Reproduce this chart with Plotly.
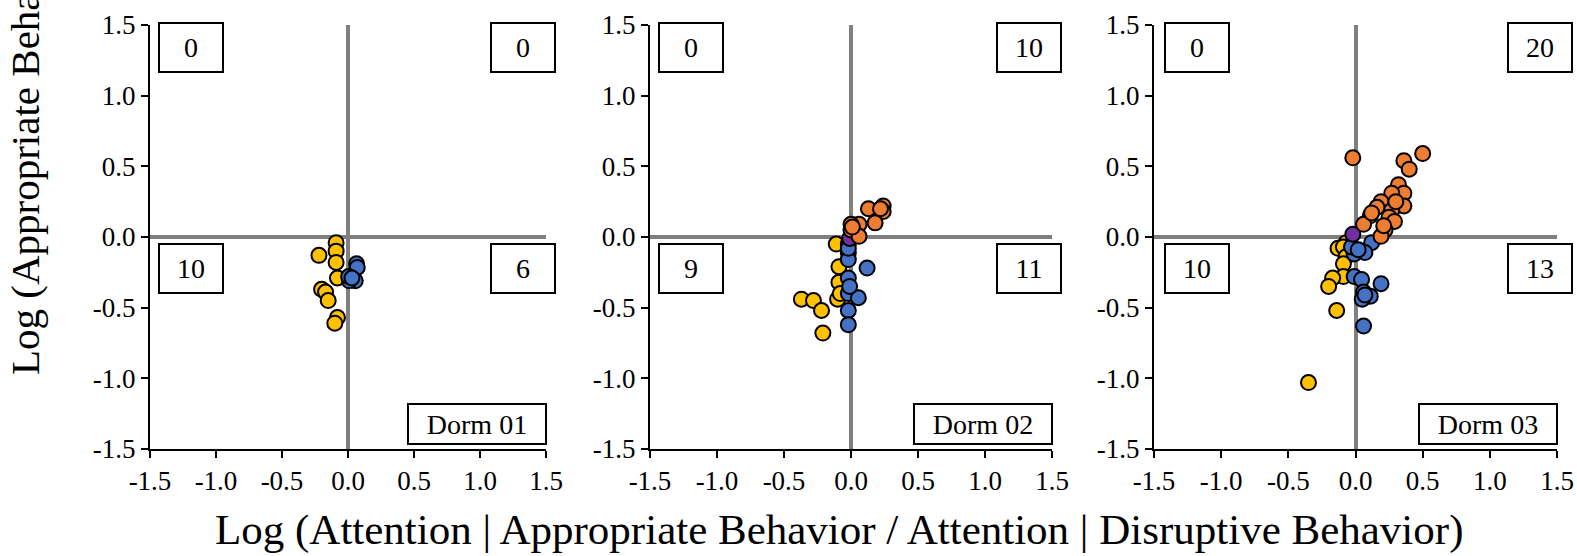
import plotly.graph_objects as go

# ---------------- data ----------------
TICK_VALS = [-1.5, -1.0, -0.5, 0.0, 0.5, 1.0, 1.5]
TICK_TEXT = ["-1.5", "-1.0", "-0.5", "0.0", "0.5", "1.0", "1.5"]

PANEL_NAMES = ["Dorm 01", "Dorm 02", "Dorm 03"]
# quadrant counts: top-left, top-right, bottom-left, bottom-right
COUNTS = [[0, 0, 10, 6], [0, 10, 9, 11], [0, 20, 10, 13]]

# Dorm 01
d1_yellow_x = [-0.09, -0.09, -0.22, -0.09, -0.08, -0.20, -0.17, -0.15, -0.08, -0.10]
d1_yellow_y = [-0.04, -0.10, -0.13, -0.18, -0.29, -0.37, -0.39, -0.45, -0.57, -0.61]
d1_blue_x = [0.065, 0.07, 0.055, 0.01, 0.005, 0.03]
d1_blue_y = [-0.19, -0.215, -0.31, -0.31, -0.28, -0.29]

# Dorm 02
d2_yellow_x = [-0.11, -0.09, -0.09, -0.10, -0.08, -0.37, -0.28, -0.22, -0.21]
d2_yellow_y = [-0.05, -0.21, -0.32, -0.44, -0.40, -0.44, -0.45, -0.52, -0.68]
d2_blue_x = [-0.02, -0.02, -0.02, 0.12, -0.02, -0.02, 0.055, -0.02, -0.02, -0.01, -0.02]
d2_blue_y = [-0.05, -0.11, -0.16, -0.22, -0.29, -0.40, -0.43, -0.52, -0.62, -0.35, -0.08]
d2_purple_x = [-0.01]
d2_purple_y = [-0.01]
d2_orange_x = [0.13, 0.24, 0.24, 0.18, 0.06, 0.00, 0.00, 0.06, 0.01, 0.22]
d2_orange_y = [0.20, 0.22, 0.18, 0.10, 0.09, 0.09, 0.05, 0.005, 0.07, 0.20]

# Dorm 03
d3_yellow_x = [-0.07, -0.13, -0.09, -0.07, -0.09, -0.09, -0.17, -0.20, -0.14, -0.35]
d3_yellow_y = [-0.04, -0.08, -0.07, -0.14, -0.19, -0.28, -0.29, -0.35, -0.52, -1.03]
d3_blue_x = [0.12, 0.07, -0.01, -0.03, -0.01, 0.045, 0.19, 0.06, 0.11, 0.05, 0.07, 0.06, 0.02]
d3_blue_y = [-0.04, -0.11, -0.12, -0.07, -0.28, -0.30, -0.33, -0.39, -0.42, -0.44, -0.41, -0.63, -0.09]
d3_purple_x = [-0.02]
d3_purple_y = [0.02]
d3_orange_x = [-0.02, 0.50, 0.36, 0.40, 0.32, 0.36, 0.27, 0.19, 0.36, 0.16,
               0.27, 0.11, 0.25, 0.29, 0.06, 0.22, 0.19, 0.12, 0.30, 0.21]
d3_orange_y = [0.56, 0.59, 0.54, 0.48, 0.37, 0.31, 0.31, 0.25, 0.22, 0.21,
               0.19, 0.15, 0.14, 0.11, 0.09, 0.05, 0.005, 0.17, 0.25, 0.08]

SERIES = [
    [("yellow", d1_yellow_x, d1_yellow_y), ("blue", d1_blue_x, d1_blue_y)],
    [("yellow", d2_yellow_x, d2_yellow_y), ("blue", d2_blue_x, d2_blue_y),
     ("purple", d2_purple_x, d2_purple_y), ("orange", d2_orange_x, d2_orange_y)],
    [("yellow", d3_yellow_x, d3_yellow_y), ("blue", d3_blue_x, d3_blue_y),
     ("purple", d3_purple_x, d3_purple_y), ("orange", d3_orange_x, d3_orange_y)],
]

COLORS = {"yellow": "#FFC000", "blue": "#4472C4", "orange": "#ED7D31", "purple": "#7030A0"}

X_TITLE = "Log (Attention | Appropriate Behavior / Attention | Disruptive Behavior)"
Y_TITLE = "Log (Appropriate Behavior / Disruptive Behavior)"

# ---------------- layout geometry ----------------
W, H = 1577, 556
PANEL_PX = [(150, 546), (650, 1052), (1154, 1557)]
TOP_PX, BOTTOM_PX = 25, 449
FONT = "Liberation Serif, Times New Roman, serif"


def px_x(p):
    return p / W


def px_y(p):
    return 1 - p / H


fig = go.Figure()

for i, panel in enumerate(SERIES):
    suffix = "" if i == 0 else str(i + 1)
    for color, xs, ys in panel:
        fig.add_trace(go.Scatter(
            x=xs, y=ys, mode="markers",
            xaxis="x" + suffix, yaxis="y" + suffix,
            marker=dict(size=15, color=COLORS[color], line=dict(color="black", width=2)),
            showlegend=False, hoverinfo="x+y",
        ))

axis_common = dict(
    range=[-1.5, 1.5], tickvals=TICK_VALS, ticktext=TICK_TEXT,
    showgrid=False, showline=True, linecolor="black", linewidth=2,
    ticks="outside", ticklen=7, tickwidth=2, tickcolor="black",
    zeroline=True, zerolinecolor="#808080", zerolinewidth=4,
    tickfont=dict(family=FONT, size=27, color="black"), fixedrange=True,
    automargin=False,
)

layout = dict(
    template="none",
    width=W, height=H, margin=dict(l=0, r=0, t=0, b=0, pad=0, autoexpand=False),
    paper_bgcolor="white", plot_bgcolor="white", showlegend=False,
    font=dict(family=FONT, color="black"),
)

annotations = []
for i, (l, r) in enumerate(PANEL_PX):
    suffix = "" if i == 0 else str(i + 1)
    layout["xaxis" + suffix] = dict(axis_common, domain=[px_x(l), px_x(r)],
                                    anchor="y" + suffix)
    layout["yaxis" + suffix] = dict(axis_common, domain=[px_y(BOTTOM_PX), px_y(TOP_PX)],
                                    anchor="x" + suffix)
    tl, tr, bl, br = COUNTS[i]
    right_off = 17 if i == 2 else 23
    left_off = 43 if i == 2 else 41
    boxes = [(l + left_off, 47, tl), (r - right_off, 47, tr),
             (l + left_off, 268, bl), (r - right_off, 268, br)]
    for cx, cy, val in boxes:
        annotations.append(dict(
            x=px_x(cx), y=px_y(cy), xref="paper", yref="paper",
            xanchor="center", yanchor="middle", showarrow=False,
            text=str(val), width=62, height=47, borderpad=0,
            bordercolor="black", borderwidth=2, bgcolor="white",
            font=dict(family=FONT, size=28, color="black"),
        ))
    annotations.append(dict(
        x=px_x(r - 69), y=px_y(424), xref="paper", yref="paper",
        xanchor="center", yanchor="middle", showarrow=False,
        text=PANEL_NAMES[i], width=136, height=38, borderpad=0,
        bordercolor="black", borderwidth=2, bgcolor="white",
        font=dict(family=FONT, size=28, color="black"),
    ))

annotations.append(dict(
    x=px_x(839), y=px_y(530), xref="paper", yref="paper",
    xanchor="center", yanchor="middle", showarrow=False,
    text=X_TITLE, font=dict(family=FONT, size=43, color="black"),
))
annotations.append(dict(
    x=px_x(25), y=px_y(377), xref="paper", yref="paper",
    xanchor="center", yanchor="bottom", showarrow=False, textangle=-90,
    text=Y_TITLE, font=dict(family=FONT, size=41, color="black"),
))

layout["annotations"] = annotations
fig.update_layout(**layout)
fig.write_html("out.html")
